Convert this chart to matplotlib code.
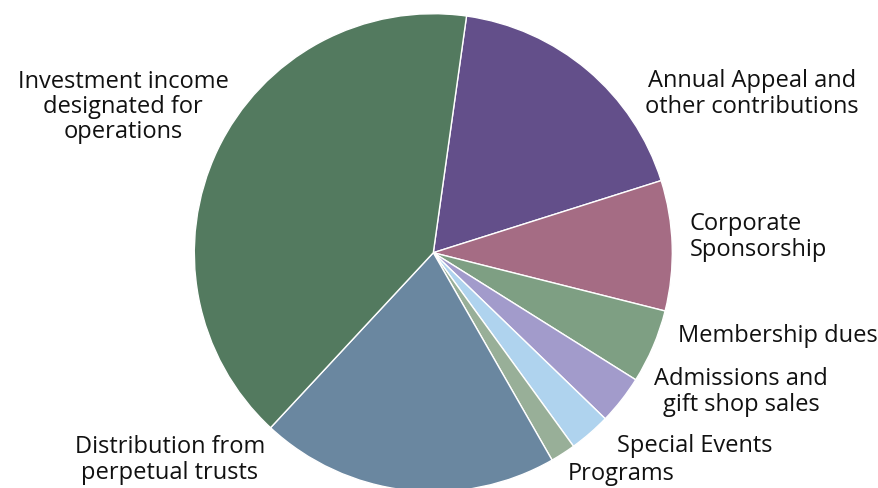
import matplotlib
matplotlib.use('Agg')
import matplotlib.pyplot as plt

# share of revenue (%), clockwise from the top
sources = ['Annual Appeal and\nother contributions', 'Corporate\nSponsorship', 'Membership dues',
           'Admissions and\ngift shop sales', 'Special Events', 'Programs',
           'Distribution from\nperpetual trusts', 'Investment income\ndesignated for\noperations']
shares = [17.9, 8.8, 5.0, 3.3, 2.8, 1.7, 20.2, 40.3]
colors = ['#634F8A', '#A56C84', '#7E9F83', '#A29BCB', '#AFD3EE', '#98AF98', '#6A87A0', '#537A5F']

# label spots in pixels (x, y from top) and alignment
label_pos = [(752, 94, 'center'), (690, 237, 'left'), (778, 336, 'center'),
             (741, 392, 'center'), (695, 446, 'center'), (621, 474, 'center'),
             (170, 460, 'center'), (123, 107, 'center')]

plt.rcParams['font.family'] = ['Open Sans', 'DejaVu Sans']

W, H = 879, 488
fig = plt.figure(figsize=(W / 100, H / 100), dpi=100)
cx, cy, r = 433.3, 252.7, 239
ax = fig.add_axes([(cx - r) / W, (H - cy - r) / H, 2 * r / W, 2 * r / H])
ax.pie(shares, colors=colors, startangle=82.0, counterclock=False,
       wedgeprops=dict(edgecolor='white', linewidth=1.0))
ax.set_xlim(-1, 1)
ax.set_ylim(-1, 1)
ax.set_aspect('auto')
ax.axis('off')

for name, (x, y, ha) in zip(sources, label_pos):
    fig.text(x / W, 1 - y / H, name, ha=ha, va='center', fontsize=17,
             color='#111111', linespacing=1.08)

fig.savefig('out.png', dpi=100)
